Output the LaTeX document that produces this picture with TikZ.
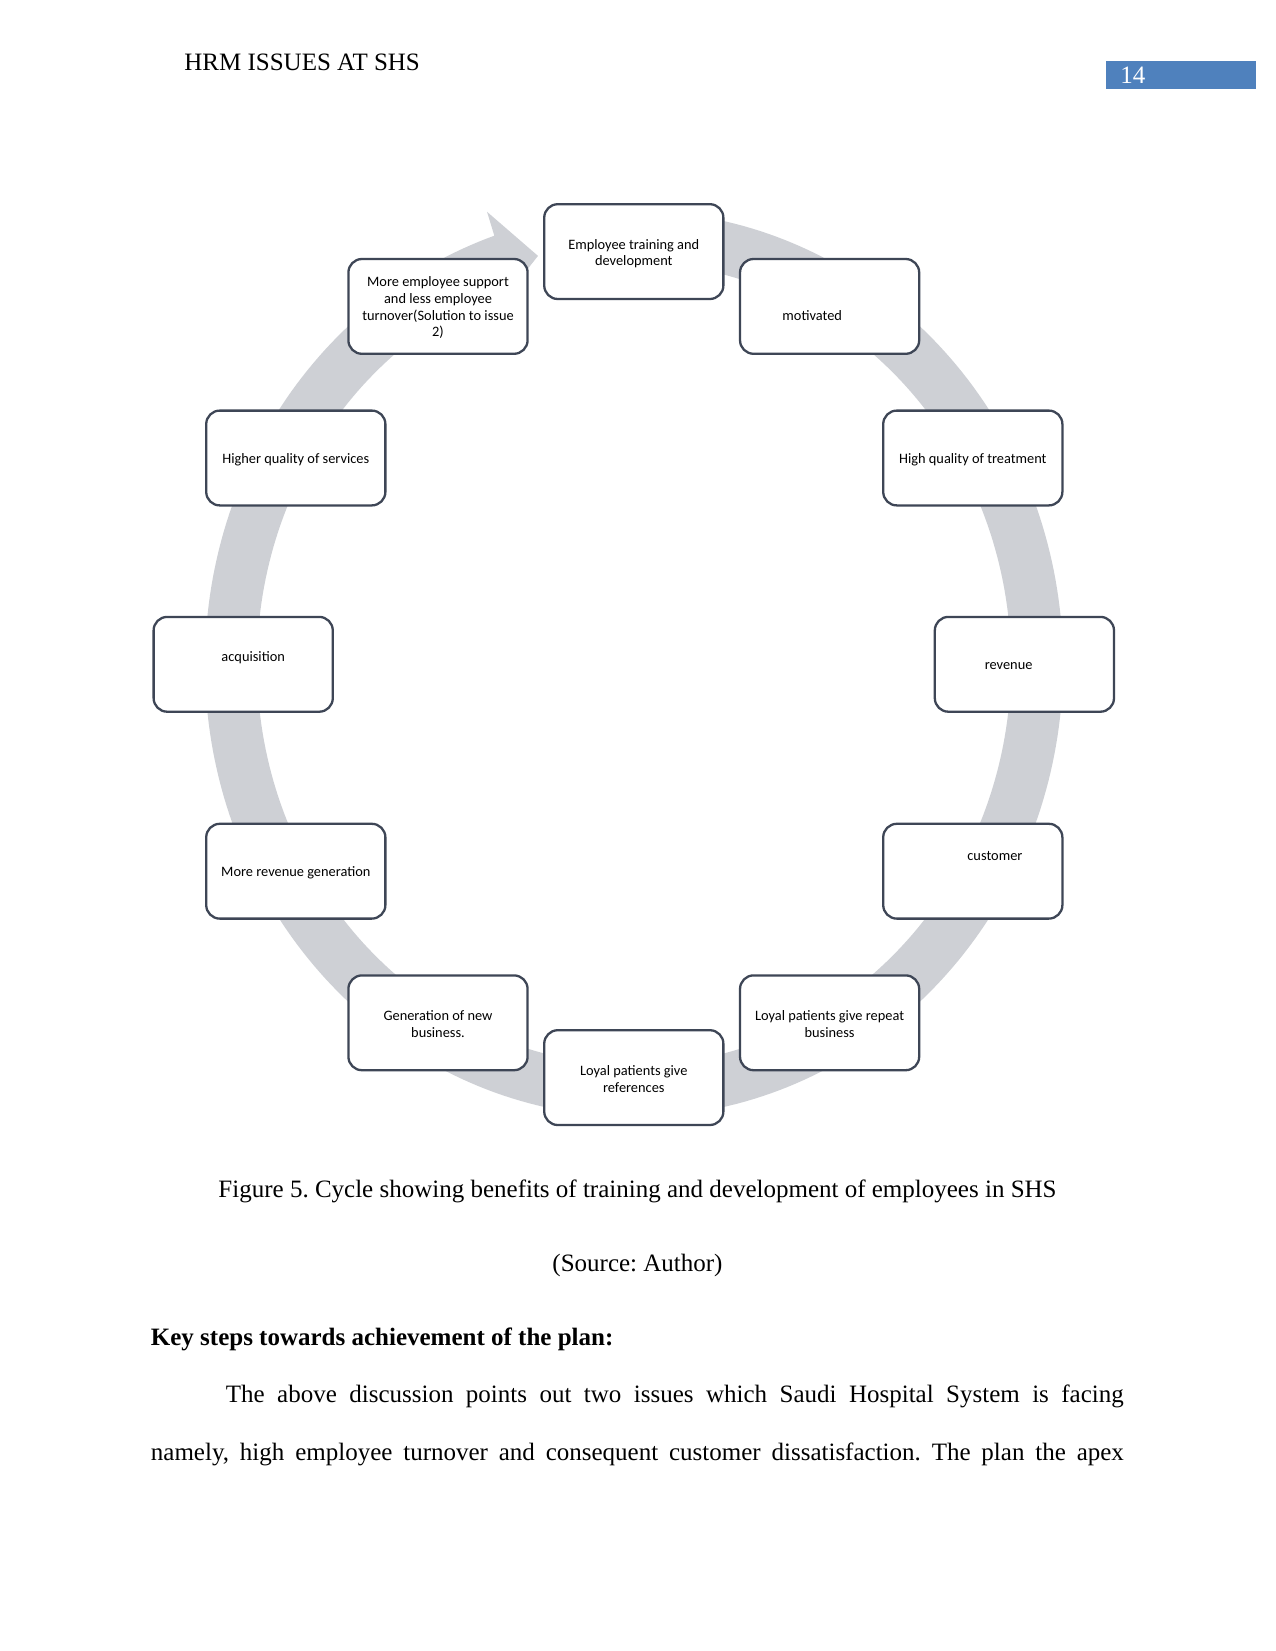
\documentclass[tikz,border=0pt]{standalone}
\usepackage{fontspec}
\setmainfont{Liberation Serif}
\newfontfamily\calibrifont{Carlito}
\definecolor{ringgray}{RGB}{206,208,213}
\definecolor{boxline}{RGB}{62,70,86}
\definecolor{hdrblue}{RGB}{79,129,189}
\frenchspacing
\begin{document}
\frenchspacing
\begin{tikzpicture}[x=0.48pt,y=-0.48pt,
  cyclebox/.style={draw=boxline, line width=1.1pt, fill=white, rounded corners=6.5pt,
    minimum width=86pt, minimum height=45.5pt, inner sep=0pt},
  cycletext/.style={font=\calibrifont\fontsize{6.9pt}{8pt}\selectfont, text=black, inner sep=0pt, align=center},
  bodytext/.style={font=\fontsize{12pt}{14pt}\selectfont, inner sep=0pt, text=black}
]
\useasboundingbox (0,0) rectangle (1275,1651);
\fill[white] (0,0) rectangle (1275,1651);

% running header
\node[bodytext, anchor=base west] (hdr) at (184,71) {HRM ISSUES AT SHS};
\node[fill=hdrblue, minimum width=71.8pt, minimum height=13.2pt, inner sep=0pt, anchor=north west] (pgbox) at (1105.5,61) {};
\node[bodytext, anchor=base west, text=white] (pg) at (1120,84) {14};

% ring arrow (clockwise)
\fill[ringgray]
  plot[domain=100:-251,samples=300] ({634+429*cos(\x)},{664-453*sin(\x)})
  -- ({634+403*1.12*cos(109)},{664-427*1.12*sin(109)})
  -- ({634+403*0.985*cos(104)},{664-427*0.985*sin(104)})
  -- (500,304)
  -- ({634+377*cos(-251)},{664-401*sin(-251)})
  -- plot[domain=-251:100,samples=300] ({634+377*cos(\x)},{664-401*sin(\x)})
  -- cycle;

% cycle boxes
\node[cyclebox, label={[cycletext, shift={(0,2)}]center:Employee training and\\development}] (n1) at (633.8,251.6) {};
\node[cyclebox, label={[cycletext, shift={(-17.4,9.5)}]center:motivated}] (n2) at (829.6,306.4) {};
\node[cyclebox, label={[cycletext, shift={(0,2)}]center:High quality of treatment}] (n3) at (972.8,458.0) {};
\node[cyclebox, label={[cycletext, shift={(-15.8,2)}]center:revenue}] (n4) at (1024.4,664.3) {};
\node[cyclebox, label={[cycletext, shift={(22.1,-15.6)}]center:customer}] (n5) at (972.8,871.2) {};
\node[cyclebox, label={[cycletext, shift={(0,1.5)}]center:Loyal patients give repeat\\business}] (n6) at (829.6,1022.8) {};
\node[cyclebox, label={[cycletext, shift={(0,1.5)}]center:Loyal patients give\\references}] (n7) at (633.8,1077.6) {};
\node[cyclebox, label={[cycletext, shift={(0,1.5)}]center:Generation of new\\business.}] (n8) at (438.0,1022.8) {};
\node[cyclebox, label={[cycletext, shift={(0,2)}]center:More revenue generation}] (n9) at (295.8,871.2) {};
\node[cyclebox, label={[cycletext, shift={(10,-6.5)}]center:acquisition}] (n10) at (243.2,664.3) {};
\node[cyclebox, label={[cycletext, shift={(0,2)}]center:Higher quality of services}] (n11) at (295.8,458.0) {};
\node[cyclebox, label={[cycletext, shift={(0,1.5)}]center:More employee support\\and less employee\\turnover(Solution to issue\\2)}] (n12) at (438.0,306.4) {};

% caption and body text
\node[bodytext] (cap) at (637.5,1191.5) {Figure 5. Cycle showing benefits of training and development of employees in SHS};
\node[bodytext] (src) at (637.5,1265) {(Source: Author)};
\node[bodytext, anchor=west, font=\fontsize{12pt}{14pt}\selectfont\bfseries] (key) at (150.5,1339.5) {Key steps towards achievement of the plan:};
\node[bodytext, anchor=west] (l1) at (225.5,1396.5) {\makebox[431pt][s]{The above discussion points out two issues which Saudi Hospital System is facing}};
\node[bodytext, anchor=west] (l2) at (150.5,1454.5) {\makebox[467pt][s]{namely, high employee turnover and consequent customer dissatisfaction. The plan the apex}};
\end{tikzpicture}
\end{document}
